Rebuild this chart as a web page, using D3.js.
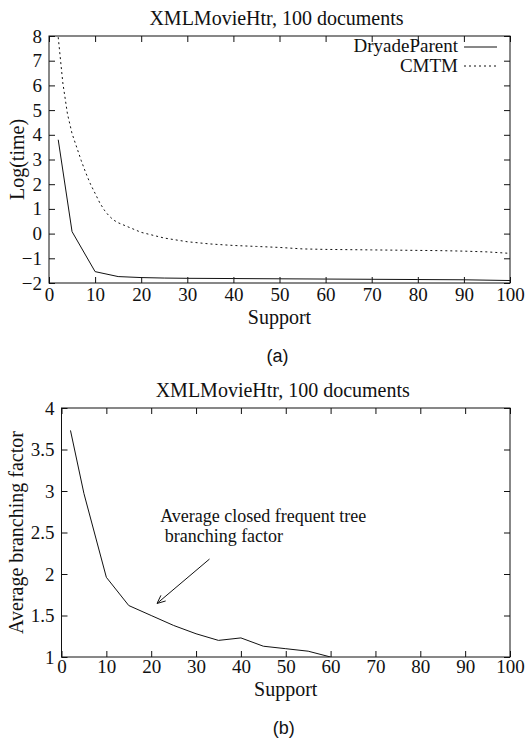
<!DOCTYPE html>
<html>
<head>
<meta charset="utf-8">
<script src="https://cdn.jsdelivr.net/npm/d3@7"></script>
<style>
  body { margin: 0; background: #fff; }
  svg { display: block; }
  text { font-family: "Liberation Serif", "Times New Roman", serif; fill: #111; }
  .caption { font-family: "Liberation Sans", Arial, sans-serif; }
</style>
</head>
<body>
<svg id="chart"></svg>
<script>
// --- data ---
var dryadeSupport = [2, 5, 10, 15, 20, 25, 30, 40, 50, 60, 70, 80, 90, 100];
var dryadeLogTime = [3.8, 0.08, -1.54, -1.74, -1.78, -1.8, -1.81, -1.82, -1.83, -1.84, -1.85, -1.86, -1.87, -1.9];

var cmtmSupport = [2, 3, 4, 5, 6, 7, 8, 9, 10, 11, 12, 13, 14, 15, 20, 25, 30, 35, 40, 45, 50, 55, 60, 65, 70, 75, 80, 85, 90, 95, 100];
var cmtmLogTime = [7.95, 6.1, 4.85, 4.05, 3.5, 2.95, 2.45, 2.0, 1.63, 1.25, 0.95, 0.72, 0.55, 0.44, 0.05, -0.18, -0.33, -0.42, -0.48, -0.52, -0.56, -0.62, -0.64, -0.65, -0.66, -0.67, -0.68, -0.69, -0.71, -0.74, -0.8];

var branchSupport = [2, 5, 10, 15, 20, 25, 30, 35, 40, 45, 50, 55, 60];
var branchFactor = [3.73, 2.97, 1.96, 1.62, 1.5, 1.38, 1.28, 1.2, 1.23, 1.13, 1.1, 1.07, 1.0];

var supportTicks = [0, 10, 20, 30, 40, 50, 60, 70, 80, 90, 100];
var logTimeTicks = [-2, -1, 0, 1, 2, 3, 4, 5, 6, 7, 8];
var branchTicks = [1, 1.5, 2, 2.5, 3, 3.5, 4];

var titleText = "XMLMovieHtr, 100 documents";
var seriesNames = ["DryadeParent", "CMTM"];

var width = 528, height = 740;
var svg = d3.select("#chart").attr("width", width).attr("height", height);
svg.append("rect").attr("width", width).attr("height", height).attr("fill", "#fff");

function zip(xs, ys){ return xs.map(function(x, i){ return [x, ys[i]]; }); }

function drawPanel(p){
    var x = d3.scaleLinear().domain([0, 100]).range([p.left, p.right]);
    var y = d3.scaleLinear().domain(p.yDomain).range([p.bottom, p.top]);
    var g = svg.append("g");

    var clipId = "clip" + p.id;
    svg.append("clipPath").attr("id", clipId)
        .append("rect").attr("x", p.left).attr("y", p.top)
        .attr("width", p.right - p.left).attr("height", p.bottom - p.top);

    var tick = 6;
    var bottomAxis = d3.axisBottom(x).tickValues(supportTicks).tickSizeInner(-tick).tickSizeOuter(0).tickPadding(p.xPad);
    var topAxis = d3.axisTop(x).tickValues(supportTicks).tickSizeInner(-tick).tickSizeOuter(0).tickFormat("");
    var leftAxis = d3.axisLeft(y).tickValues(p.yTicks).tickSizeInner(-tick).tickSizeOuter(0).tickPadding(7).tickFormat(p.yFormat);
    var rightAxis = d3.axisRight(y).tickValues(p.yTicks).tickSizeInner(-tick).tickSizeOuter(0).tickFormat("");

    [[bottomAxis, "translate(0," + p.bottom + ")"],
     [topAxis, "translate(0," + p.top + ")"],
     [leftAxis, "translate(" + p.left + ",0)"],
     [rightAxis, "translate(" + p.right + ",0)"]].forEach(function(a){
        var ag = g.append("g").attr("transform", a[1]).call(a[0]);
        ag.select(".domain").remove();
        ag.selectAll("line").attr("stroke", "#111");
        ag.selectAll("text").attr("font-size", 19).attr("font-family", "Liberation Serif").attr("fill", "#111");
    });

    g.append("rect")
        .attr("x", p.left).attr("y", p.top)
        .attr("width", p.right - p.left).attr("height", p.bottom - p.top)
        .attr("fill", "none").attr("stroke", "#111").attr("stroke-width", 1);

    var line = d3.line().x(function(d){ return x(d[0]); }).y(function(d){ return y(d[1]); });
    p.series.forEach(function(s){
        g.append("path")
            .datum(zip(s.xs, s.ys))
            .attr("clip-path", "url(#" + clipId + ")")
            .attr("d", line)
            .attr("fill", "none")
            .attr("stroke", "#111")
            .attr("stroke-width", 1)
            .attr("stroke-dasharray", s.dash || null);
    });

    // title
    g.append("text")
        .attr("x", (p.left + p.right) / 2 - 3).attr("y", p.top - 11)
        .attr("text-anchor", "middle").attr("font-size", 20)
        .text(titleText);

    // axis labels
    g.append("text")
        .attr("x", (p.left + p.right) / 2).attr("y", p.bottom + p.xLabelGap)
        .attr("text-anchor", "middle").attr("font-size", 20)
        .text("Support");
    g.append("text")
        .attr("transform", "translate(" + p.yLabelX + "," + ((p.top + p.bottom) / 2) + ") rotate(-90)")
        .attr("text-anchor", "middle").attr("font-size", 20)
        .text(p.yLabel);

    // caption
    g.append("text").attr("class", "caption")
        .attr("x", (p.left + p.right) / 2 - 2).attr("y", p.captionY)
        .attr("text-anchor", "middle").attr("font-size", 18)
        .text(p.caption);

    return {x: x, y: y, g: g};
}

// --- panel (a) ---
var a = drawPanel({
    id: "a", left: 49, right: 510, top: 36, bottom: 283,
    yDomain: [-2, 8], yTicks: logTimeTicks, yFormat: d3.format("d"),
    yLabel: "Log(time)", yLabelX: 24, xPad: 5, xLabelGap: 41, captionY: 362, caption: "(a)",
    series: [
        {xs: dryadeSupport, ys: dryadeLogTime},
        {xs: cmtmSupport, ys: cmtmLogTime, dash: "2,3"}
    ]
});

// legend
var legend = a.g.append("g");
[[seriesNames[0], null, 52, 47], [seriesNames[1], "2,3", 72, 66]].forEach(function(l){
    legend.append("text").attr("x", 458).attr("y", l[2])
        .attr("text-anchor", "end").attr("font-size", 19).text(l[0]);
    legend.append("line").attr("x1", 464).attr("x2", 497).attr("y1", l[3]).attr("y2", l[3])
        .attr("stroke", "#111").attr("stroke-width", 1).attr("stroke-dasharray", l[1]);
});

// --- panel (b) ---
var b = drawPanel({
    id: "b", left: 61.5, right: 510, top: 408, bottom: 657,
    yDomain: [1, 4], yTicks: branchTicks, yFormat: d3.format("~g"),
    yLabel: "Average branching factor", yLabelX: 23, xPad: 2, xLabelGap: 39, captionY: 734, caption: "(b)",
    series: [
        {xs: branchSupport, ys: branchFactor}
    ]
});

// annotation with arrow
var arrowFrom = [33, 2.18], arrowTo = [21.3, 1.645];
var ax1 = b.x(arrowFrom[0]), ay1 = b.y(arrowFrom[1]);
var ax2 = b.x(arrowTo[0]), ay2 = b.y(arrowTo[1]);
b.g.append("line").attr("x1", ax1).attr("y1", ay1).attr("x2", ax2).attr("y2", ay2)
    .attr("stroke", "#111").attr("stroke-width", 1);
var ang = Math.atan2(ay2 - ay1, ax2 - ax1), hl = 9, spread = 0.42;
b.g.append("path")
    .attr("d", "M" + (ax2 - hl * Math.cos(ang - spread)) + "," + (ay2 - hl * Math.sin(ang - spread)) +
               "L" + ax2 + "," + ay2 +
               "L" + (ax2 - hl * Math.cos(ang + spread)) + "," + (ay2 - hl * Math.sin(ang + spread)))
    .attr("fill", "none").attr("stroke", "#111").attr("stroke-width", 1);

var note = b.g.append("text").attr("font-size", 18).attr("xml:space", "preserve");
note.append("tspan").attr("x", b.x(22)).attr("y", b.y(2.63)).text("Average closed frequent tree");
note.append("tspan").attr("x", b.x(22)).attr("y", b.y(2.39)).text(" branching factor");
</script>
</body>
</html>
